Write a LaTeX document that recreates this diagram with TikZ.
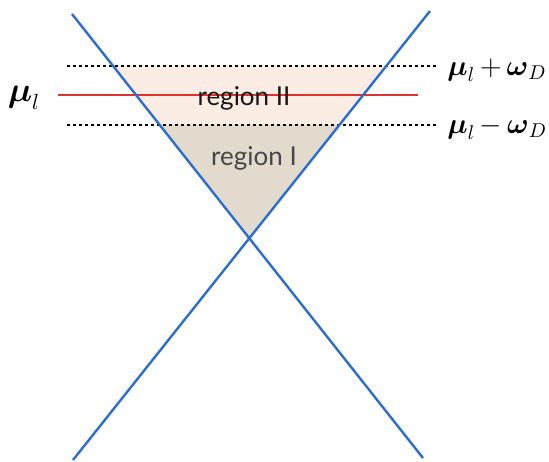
\documentclass[tikz,border=0pt]{standalone}
\usepackage{amsmath}
\usepackage{fontspec}
\setsansfont{Lato}
\usetikzlibrary{intersections, positioning, calc}
\definecolor{conecolor}{RGB}{45,110,205}
\definecolor{fermicolor}{RGB}{225,50,50}
\definecolor{regiontwo}{RGB}{251,236,228}
\definecolor{regionone}{RGB}{226,218,205}
\tikzset{
	cone/.style={draw=conecolor, line width=1.2pt},
	cutoff/.style={draw=black, line width=0.9pt, dash pattern=on 1.7pt off 1.3pt},
	fermi/.style={draw=fermicolor, line width=0.9pt},
	regionlabel/.style={font=\sffamily\fontsize{13}{15}\selectfont},
	mathlabel/.style={font=\fontsize{14.5}{17}\selectfont, inner sep=0pt}
}

\begin{document}
\begin{tikzpicture}[x=0.5pt, y=-0.5pt]
        \useasboundingbox (0,0) rectangle (549,461);

        \coordinate (a1) at (72,14);
        \coordinate (a2) at (423,458);
        \coordinate (b1) at (430,11);
        \coordinate (b2) at (73,460);
        \coordinate (up1) at (67,66);
        \coordinate (up2) at (437,66);
        \coordinate (lo1) at (67,125);
        \coordinate (lo2) at (437,125);
        \coordinate (mu1) at (58,95);
        \coordinate (mu2) at (418,95);

        \path[name path=lineA] (a1) -- (a2);
        \path[name path=lineB] (b1) -- (b2);
        \path[name path=upper] (up1) -- (up2);
        \path[name path=lower] (lo1) -- (lo2);
        \path[name intersections={of=lineA and upper, by=au}];
        \path[name intersections={of=lineB and upper, by=bu}];
        \path[name intersections={of=lineA and lower, by=al}];
        \path[name intersections={of=lineB and lower, by=bl}];
        \path[name intersections={of=lineA and lineB, by=apex}];

        % shaded regions
        \fill[regiontwo] (au) -- (bu) -- (bl) -- (al) -- cycle;
        \fill[regionone] (al) -- (bl) -- (apex) -- cycle;

        \draw[cutoff] (up1) -- (up2);
        \draw[cutoff] (lo1) -- (lo2);
        \draw[fermi] (mu1) -- (mu2);

        \node[regionlabel, text=black!90] (reg2) at (244,98) {region II};
        \node[regionlabel, text=black!72] (reg1) at (254,158) {region I};

        \draw[cone] (a1) -- (a2);
        \draw[cone] (b1) -- (b2);

        \node[mathlabel, font=\fontsize{16}{18}\selectfont] (mul) at (24,98) {$\boldsymbol{\mu}_l$};
        \node[mathlabel, anchor=west] (muplus) at (447,70) {$\boldsymbol{\mu}_l\,{+}\,\boldsymbol{\omega}_D$};
        \node[mathlabel, anchor=west] (muminus) at (447,128) {$\boldsymbol{\mu}_l\,{-}\,\boldsymbol{\omega}_D$};
    \end{tikzpicture}
\end{document}
